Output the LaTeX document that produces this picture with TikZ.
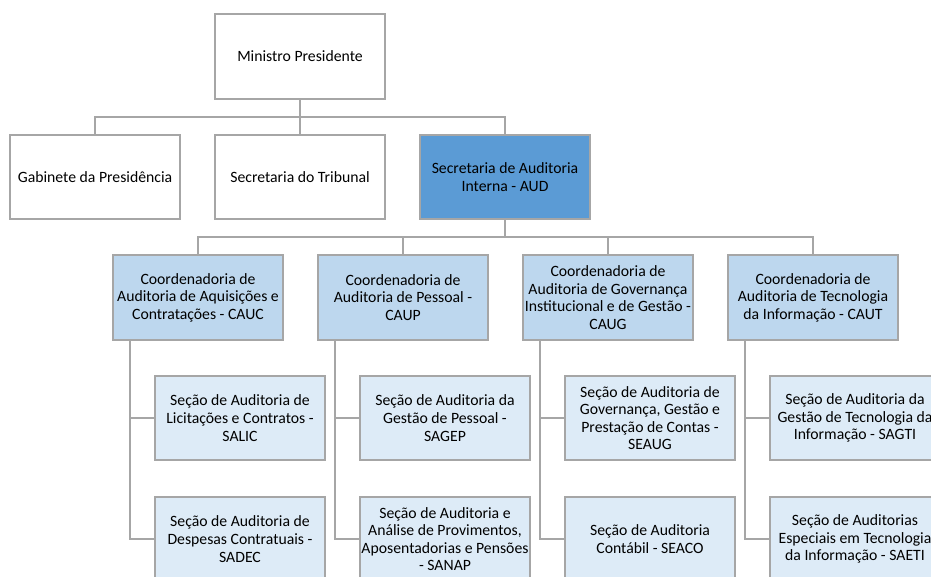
\documentclass[tikz,border=0pt]{standalone}
\usepackage{fontspec}
\setmainfont{Carlito}
\definecolor{edgegray}{HTML}{A6A6A6}
\definecolor{audblue}{HTML}{5B9BD5}
\definecolor{coordblue}{HTML}{BDD7EE}
\definecolor{secblue}{HTML}{DDEBF7}
\tikzset{
  orgbox/.style={draw=edgegray, line width=1.5pt, fill=white, minimum width=127.5pt,
    minimum height=63.4pt, inner sep=1pt, align=center, text=black,
    font=\fontsize{11.8}{13.2}\selectfont},
  topbox/.style={orgbox},
  audbox/.style={orgbox, fill=audblue},
  coordbox/.style={orgbox, fill=coordblue},
  secbox/.style={orgbox, fill=secblue},
  link/.style={draw=edgegray, line width=1.5pt}
}
\begin{document}
\begin{tikzpicture}[x=0.75pt,y=-0.75pt]
\clip (0,0) rectangle (931,576);
\fill[white] (0,0) rectangle (931,576);
% level 1
\node[topbox] (mp) at (300,56.5) {Ministro Presidente};
% level 2
\node[topbox] (gab) at (95,177) {Gabinete da Presidência};
\node[topbox] (trib) at (300,177) {Secretaria do Tribunal};
\node[audbox] (aud) at (505,177) {Secretaria de Auditoria\\Interna - AUD};
% level 3
\node[coordbox] (cauc) at (198,297.5) {Coordenadoria de\\Auditoria de Aquisições e\\Contratações - CAUC};
\node[coordbox] (caup) at (403,297.5) {Coordenadoria de\\Auditoria de Pessoal -\\CAUP};
\node[coordbox] (caug) at (608,297.5) {Coordenadoria de\\Auditoria de Governança\\Institucional e de Gestão -\\CAUG};
\node[coordbox] (caut) at (813,297.5) {Coordenadoria de\\Auditoria de Tecnologia\\da Informação - CAUT};
% level 4
\node[secbox] (salic) at (240,418) {Seção de Auditoria de\\Licitações e Contratos -\\SALIC};
\node[secbox] (sadec) at (240,539) {Seção de Auditoria de\\Despesas Contratuais -\\SADEC};
\node[secbox] (sagep) at (445,418) {Seção de Auditoria da\\Gestão de Pessoal -\\SAGEP};
\node[secbox] (sanap) at (445,539) {Seção de Auditoria e\\Análise de Provimentos,\\Aposentadorias e Pensões\\- SANAP};
\node[secbox] (seaug) at (650,418) {Seção de Auditoria de\\Governança, Gestão e\\Prestação de Contas -\\SEAUG};
\node[secbox] (seaco) at (650,539) {Seção de Auditoria\\Contábil - SEACO};
\node[secbox] (sagti) at (855,418) {Seção de Auditoria da\\Gestão de Tecnologia da\\Informação - SAGTI};
\node[secbox] (saeti) at (855,539) {Seção de Auditorias\\Especiais em Tecnologia\\da Informação - SAETI};
% connectors level 1-2
\coordinate (bA) at (300,117);
\draw[link] (mp.south) -- (bA);
\draw[link] (bA) -| (gab.north);
\draw[link] (bA) -- (trib.north);
\draw[link] (bA) -| (aud.north);
% connectors level 2-3
\coordinate (bB) at (505,237);
\draw[link] (aud.south) -- (bB);
\draw[link] (bB) -| (cauc.north);
\draw[link] (bB) -| (caup.north);
\draw[link] (bB) -| (caug.north);
\draw[link] (bB) -| (caut.north);
% connectors level 3-4
\foreach \c/\a/\b in {cauc/salic/sadec, caup/sagep/sanap, caug/seaug/seaco, caut/sagti/saeti}{
  \draw[link] (\c.south west) ++(17.5,0) |- (\a.west);
  \draw[link] (\c.south west) ++(17.5,0) |- (\b.west);
}
\end{tikzpicture}
\end{document}
